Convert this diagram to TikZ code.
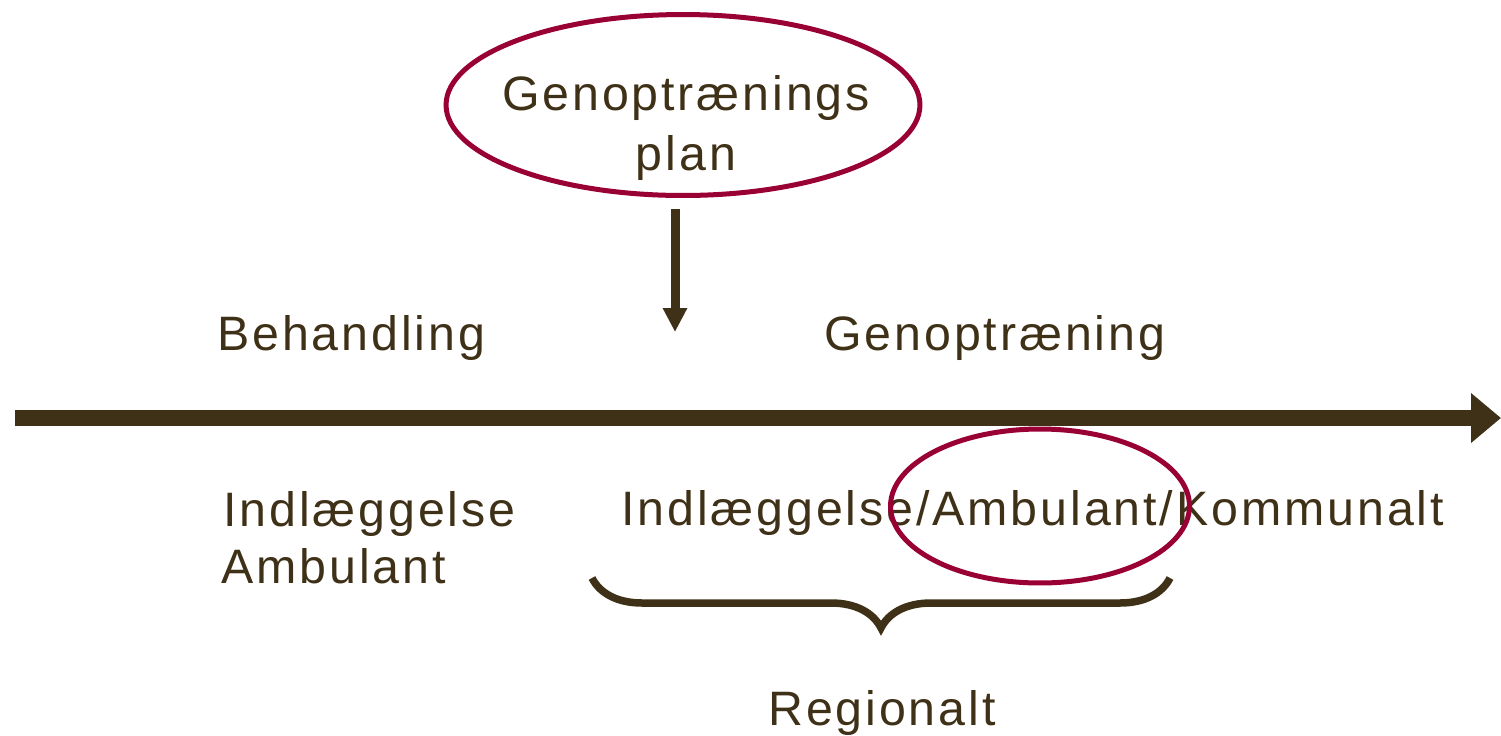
\documentclass[tikz,border=0pt]{standalone}
\usepackage{fontspec}
\setmainfont{Liberation Sans}[LetterSpace=6]
\usetikzlibrary{arrows.meta,shapes.geometric,decorations.pathreplacing}
\definecolor{txtbrown}{RGB}{63,49,23}
\definecolor{ringred}{RGB}{153,0,51}
\tikzset{
  lbl/.style={font=\fontsize{27.5}{34}\selectfont, text=txtbrown, inner sep=0pt},
  ring/.style={draw=ringred, line width=0.1cm, ellipse, inner sep=0pt},
  axisline/.style={draw=txtbrown, line width=0.32cm, -{Triangle[length=0.6cm,width=0.96cm]}},
  droparrow/.style={draw=txtbrown, line width=0.18cm, -{Triangle[length=0.48cm,width=0.46cm]}},
  bracket/.style={draw=txtbrown, line width=0.15cm, decorate,
    decoration={brace, mirror, amplitude=1cm}},
}
\begin{document}
\begin{tikzpicture}[x=0.02cm, y=-0.02cm]
\useasboundingbox (0,0) rectangle (1501,735);
\coordinate (axisstart) at (15,418);
\coordinate (axisend) at (1501,418);
\draw[axisline] (axisstart) -- (axisend);

%%%%%%%%%%%%%%%%%%%%%%%%%%%%%%%%%%%%%%%%

\node[ring, minimum width=9.48cm, minimum height=3.62cm] (planring) at (683,105) {};
\node[lbl, align=center, anchor=base] (plantext) at (686,170) {Genoptrænings\\plan};
\coordinate (dropend) at (675,332);
\draw[droparrow] ([yshift=-0.23cm]planring.south -| dropend) -- (dropend);

\node[lbl, anchor=base west] (behandling) at (217,350) {Behandling};
\node[lbl, anchor=base west] (genoptraening) at (824,350) {Genoptræning};

%%%%%%%%%%%%%%%%%%%%%%%%%%%%%%%%%%%%%%%%

\node[lbl, anchor=base west] (indl) at (223,526) {Indlæggelse};
\node[lbl, anchor=base west] (amb) at (221,583) {Ambulant};
\node[lbl, anchor=base west] (forloeb) at (621,525) {Indlæggelse/Ambulant/Kommunalt};
\node[ring, minimum width=5.98cm, minimum height=3.08cm] (ambring) at (1040,506) {};

\coordinate (braceleft) at (592,578);
\coordinate (braceright) at (1170,578);
\draw[bracket] (braceleft) -- (braceright);
\node[lbl, anchor=base] (regionalt) at (882,725) {Regionalt};
\end{tikzpicture}
\end{document}
